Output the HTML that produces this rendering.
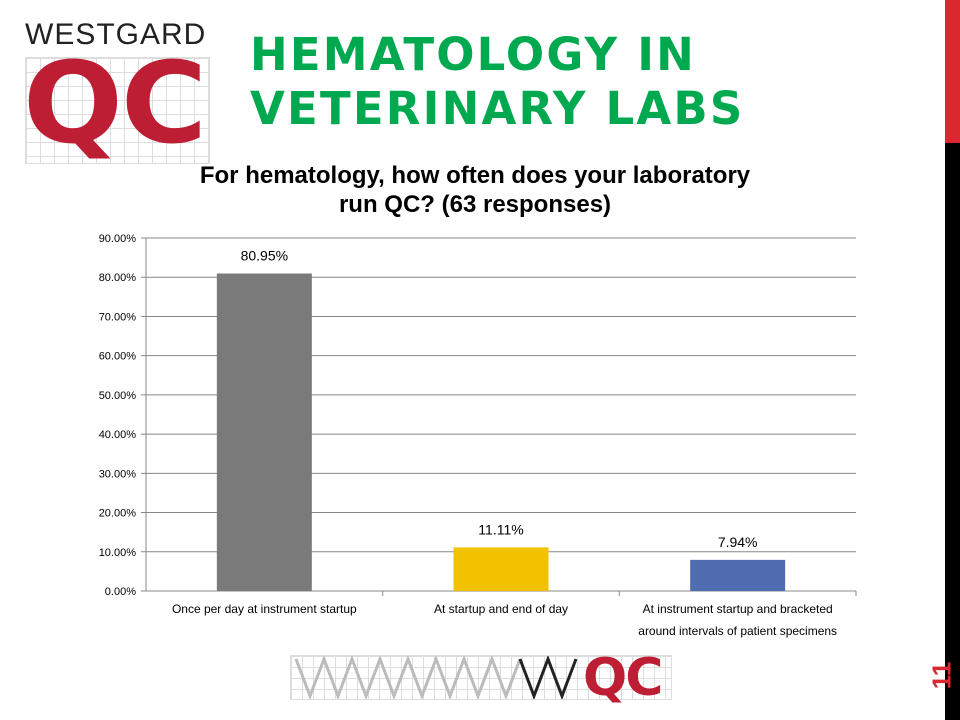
<!DOCTYPE html>
<html><head><meta charset="utf-8"><style>
body{margin:0;width:960px;height:720px;background:#fff;position:relative;overflow:hidden;font-family:"Liberation Sans",sans-serif}
.abs{position:absolute}
</style></head><body>
<div class="abs" style="left:945px;top:0;width:15px;height:143px;background:#d9282f"></div>
<div class="abs" style="left:945px;top:143px;width:15px;height:577px;background:#000"></div>
<div class="abs" style="left:25px;top:20px;width:185px;height:125px">
 <div style="font-size:30px;color:#222;letter-spacing:1px;font-weight:normal;line-height:30px">WESTGARD</div>
 <div style="position:absolute;left:0;top:37px;width:183px;height:105px;background-image:linear-gradient(#ddd 1px,transparent 1px),linear-gradient(90deg,#ddd 1px,transparent 1px);background-size:14px 14px;border:1px solid #ddd"></div>
 <div style="position:absolute;left:-2px;top:28px;font-size:112px;font-weight:900;color:#be1e34;line-height:112px;font-family:'DejaVu Sans',sans-serif;letter-spacing:-2px;transform:scaleX(1.05);transform-origin:left">QC</div>
</div>
<div class="abs" style="left:250px;top:28px;color:#00a94f;font-weight:bold;font-size:45px;line-height:54px;letter-spacing:2.2px;font-family:'DejaVu Sans',sans-serif">HEMATOLOGY IN<br>VETERINARY LABS</div>
<div class="abs" style="left:100px;top:161px;width:750px;text-align:center;font-weight:bold;font-size:24px;line-height:29px;color:#000">For hematology, how often does your laboratory<br>run QC? (63 responses)</div>
<svg class="abs" style="left:0;top:0" width="960" height="720" id="chart"></svg>
<div class="abs" style="left:290px;top:655px;width:380px;height:43px;background-image:linear-gradient(#ddd 1px,transparent 1px),linear-gradient(90deg,#ddd 1px,transparent 1px);background-size:11px 11px;border:1px solid #ddd">
 <svg width="380" height="43" style="position:absolute;left:0;top:0"><polyline points="5,3 19,40 33,3 47,40 61,3 75,40 89,3 103,40 117,3 131,40 145,3 159,40 173,3 187,40 201,3 215,40 229,3" fill="none" stroke="#bbb" stroke-width="3"/><polyline points="229,3 243,40 257,3 271,40 285,3" fill="none" stroke="#222" stroke-width="3"/></svg>
 <div style="position:absolute;left:292px;top:-8px;font-size:52px;font-weight:900;color:#be1e34;font-family:'DejaVu Sans',sans-serif;letter-spacing:-2px">QC</div>
</div>
<div class="abs" style="left:922px;top:660px;transform:rotate(-90deg);transform-origin:center;color:#d9282f;font-weight:bold;font-size:26px;width:40px;text-align:center">11</div>
<script>
const categories=["Once per day at instrument startup","At  startup and end of day","At instrument startup and bracketed|around intervals of patient specimens"];
const values=[80.95,11.11,7.94];
const labels=["80.95%","11.11%","7.94%"];
const ticks=[0,10,20,30,40,50,60,70,80,90];
const colors=["#7a7a7a","#f2c200","#4f6db0"];
const svg=document.getElementById('chart');const NS="http://www.w3.org/2000/svg";
const X0=146,X1=856,Y0=591,Y1=238,MAX=90;
const y=v=>Y0-(v/MAX)*(Y0-Y1);
const bw=(X1-X0)/categories.length;
function mk(t,a){const e=document.createElementNS(NS,t);for(const k in a)e.setAttribute(k,a[k]);svg.appendChild(e);return e;}
ticks.forEach(t=>{
 const l=mk('line',{x1:X0-5,x2:X1,y1:y(t),y2:y(t),stroke:'#888','stroke-width':1});
 
 
 const tx=mk('text',{x:X0-10,y:y(t)+4,'text-anchor':'end','font-size':11,fill:'#000','font-family':'Liberation Sans,sans-serif'});
 tx.textContent=t.toFixed(2)+'%';
 
 
});
const ax=mk('line',{x1:X0,x2:X0,y1:Y1,y2:Y0,stroke:'#888'});


categories.forEach((c,i)=>{
 const cx=X0+bw*(i+0.5);
 const r=mk('rect',{x:cx-47.5,y:y(values[i]),width:95,height:Y0-y(values[i]),fill:colors[i]});
 
 
 const t=mk('text',{x:cx,y:y(values[i])-13,'text-anchor':'middle','font-size':14,fill:'#000','font-family':'Liberation Sans,sans-serif'});
 t.textContent=labels[i];
 
 
 const tk=mk('line',{x1:X0+bw*(i+1),x2:X0+bw*(i+1),y1:Y0,y2:Y0+5,stroke:'#888'});
 
 
 c.split('|').forEach((ln,j)=>{
  const ct=mk('text',{x:cx,y:Y0+22+j*22,'text-anchor':'middle','font-size':12,fill:'#000','font-family':'Liberation Sans,sans-serif'});
  ct.textContent=ln;
  
  
 });
});
</script>
</body></html>
